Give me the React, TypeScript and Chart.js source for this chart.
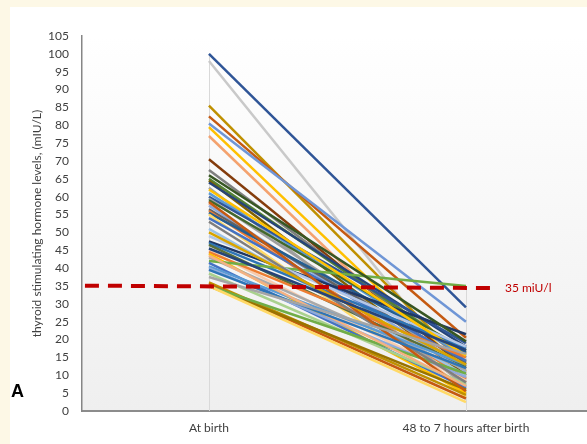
import React, { useEffect, useRef } from 'react';
import { Chart, registerables } from 'chart.js';

Chart.register(...registerables);

const categories = ['At birth', '48 to 7 hours after birth'];

const atBirth = [
  100, 98, 85.5, 82.5, 80.5, 79.5, 77, 70.5, 67.5, 65,
  64.5, 64, 62.5, 61, 60, 59.5, 59, 58, 57.5, 56.5,
  56, 55.5, 55, 54, 51, 47.5, 47, 46.5, 45, 44.5,
  44, 43, 42, 41.5, 40.5, 40, 38.5, 36, 35.5, 35,
  35, 35, 49, 53, 62, 66, 58.5, 50, 45.5, 43.5,
  39.5, 37.5,
];

const after48h = [
  29, 9, 13, 20.5, 25, 11, 8, 12, 14, 16,
  10, 18, 7, 15, 19, 12, 17, 6, 11, 13.5,
  9, 16.5, 4, 14, 10, 21.5, 17.5, 12.5, 8.5, 15,
  5, 11.5, 35, 6.5, 13, 9.5, 7.5, 4.5, 3.5, 6,
  10.5, 2.5, 18, 8, 15.5, 19.5, 5.5, 13, 17, 7,
  12, 16,
];

const lineColors = [
  '#2F5597', '#C9C9C9', '#BF9000', '#C55A11', '#6F96D6', '#FFC000', '#F4A26E', '#843C0C', '#7F7F7F', '#548235',
  '#7F6000', '#264478', '#A5A5A5', '#5B9BD5', '#2F5597', '#9E9E9E', '#43682B', '#F4B183', '#8FAADC', '#636363',
  '#ED7D31', '#255E91', '#FFD966', '#4472C4', '#9DC3E6', '#203864', '#2E75B6', '#596F3A', '#F8CBAD', '#ED7D31',
  '#FFC000', '#A9A9A9', '#70AD47', '#4472C4', '#5B9BD5', '#8FAADC', '#A9D18E', '#BF9000', '#C55A11', '#997300',
  '#70AD47', '#FFD966', '#B4C7E7', '#7F7F7F', '#FFC000', '#375623', '#C55A11', '#D9A400', '#264478', '#F4B183',
  '#2E75B6', '#A5A5A5',
];

const yTickMin = 0;
const yTickMax = 105;
const yTickStep = 5;

const thresholdLabel = '35 miU/l';
const thresholdStartValue = 35.1;
const thresholdEndValue = 34.4;

const yTitle = 'thyroid stimulating hormone levels, (mIU/L)';
const panelLabel = 'A';

const FONT = 'Lato, "Open Sans", "Liberation Sans", sans-serif';

export default function App() {
  const ref = useRef<HTMLCanvasElement>(null);

  useEffect(() => {
    const canvas = ref.current;
    if (!canvas) return;

    const n = atBirth.length;
    const datasets: any[] = atBirth.map((v, i) => ({
      data: [
        { x: 0, y: v },
        { x: 1, y: after48h[i] },
      ],
      borderColor: lineColors[i % lineColors.length],
      borderWidth: 2.5,
      pointRadius: 0,
      fill: false,
      tension: 0,
      order: n - i,
    }));

    datasets.push({
      data: [
        { x: -0.4825, y: thresholdStartValue },
        { x: 1.1245, y: thresholdEndValue },
      ],
      borderColor: '#C00000',
      borderWidth: 4,
      borderDash: [14, 9],
      pointRadius: 0,
      fill: false,
      tension: 0,
      order: -1,
    });

    const bgPlugin = {
      id: 'bg',
      beforeDraw(chart: any) {
        const { ctx, chartArea } = chart;
        ctx.save();
        ctx.fillStyle = '#FFFFFF';
        ctx.fillRect(0, 0, chart.width, chart.height);
        const g = ctx.createLinearGradient(0, chartArea.top, 0, chartArea.bottom);
        g.addColorStop(0, '#FFFFFF');
        g.addColorStop(1, '#EFEFEF');
        ctx.fillStyle = g;
        ctx.fillRect(chartArea.left, chartArea.top, chartArea.right - chartArea.left, chartArea.bottom - chartArea.top);
        ctx.restore();
      },
      beforeDatasetsDraw(chart: any) {
        const { ctx } = chart;
        const xs = chart.scales.x;
        const ys = chart.scales.y;
        const cols = [atBirth, after48h];
        ctx.save();
        ctx.strokeStyle = '#D9D9D9';
        ctx.lineWidth = 1;
        cols.forEach((arr, c) => {
          const mx = Math.max(...arr);
          const px = Math.round(xs.getPixelForValue(c)) + 0.5;
          ctx.beginPath();
          ctx.moveTo(px, ys.getPixelForValue(mx));
          ctx.lineTo(px, ys.getPixelForValue(0));
          ctx.stroke();
        });
        ctx.restore();
      },
      afterDraw(chart: any) {
        const { ctx } = chart;
        const xs = chart.scales.x;
        const ys = chart.scales.y;
        ctx.save();
        ctx.fillStyle = '#C00000';
        ctx.font = `12px ${FONT}`;
        ctx.textBaseline = 'middle';
        ctx.textAlign = 'left';
        ctx.fillText(thresholdLabel, xs.getPixelForValue(1.1245) + 7, ys.getPixelForValue(thresholdEndValue));
        ctx.fillStyle = '#000000';
        ctx.font = `bold 18px "Liberation Sans", Arial, sans-serif`;
        ctx.fillText(panelLabel, 1, 385);
        ctx.restore();
      },
    };

    const chart = new Chart(canvas, {
      type: 'line',
      data: { datasets },
      plugins: [bgPlugin],
      options: {
        animation: false,
        responsive: false,
        devicePixelRatio: 1,
        layout: { padding: { top: 29, right: 0, left: 0, bottom: 0 } },
        plugins: {
          legend: { display: false },
          tooltip: { enabled: false },
        },
        scales: {
          x: {
            type: 'linear',
            min: -0.494,
            max: 1.471,
            grid: { display: false, drawTicks: false },
            border: { display: true, color: '#8C8C8C', width: 2 },
            afterBuildTicks(scale: any) {
              scale.ticks = categories.map((_, i) => ({ value: i }));
            },
            afterFit(scale: any) {
              scale.height = 33;
            },
            ticks: {
              padding: 10,
              color: '#404040',
              font: { family: FONT, size: 12 },
              maxRotation: 0,
              autoSkip: false,
              callback: (v: any) => categories[v] ?? '',
            },
          },
          y: {
            type: 'linear',
            min: yTickMin,
            max: yTickMax,
            grid: { display: false, drawTicks: false },
            border: { display: true, color: '#868686', width: 1.5 },
            afterFit(scale: any) {
              scale.width = 72;
            },
            ticks: {
              stepSize: yTickStep,
              padding: 13,
              color: '#404040',
              font: { family: FONT, size: 12 },
            },
            title: {
              display: true,
              text: yTitle,
              color: '#404040',
              font: { family: FONT, size: 12 },
              padding: { top: 20, bottom: 0 },
            },
          },
        },
      },
    } as any);

    return () => chart.destroy();
  }, []);

  return (
    <div
      style={{
        position: 'fixed',
        left: 0,
        top: 0,
        width: 587,
        height: 444,
        background: '#FDF8E6',
        overflow: 'hidden',
      }}
    >
      <canvas
        ref={ref}
        width={577}
        height={437}
        style={{ position: 'absolute', left: 10, top: 7, width: 577, height: 437, display: 'block' }}
      />
    </div>
  );
}
